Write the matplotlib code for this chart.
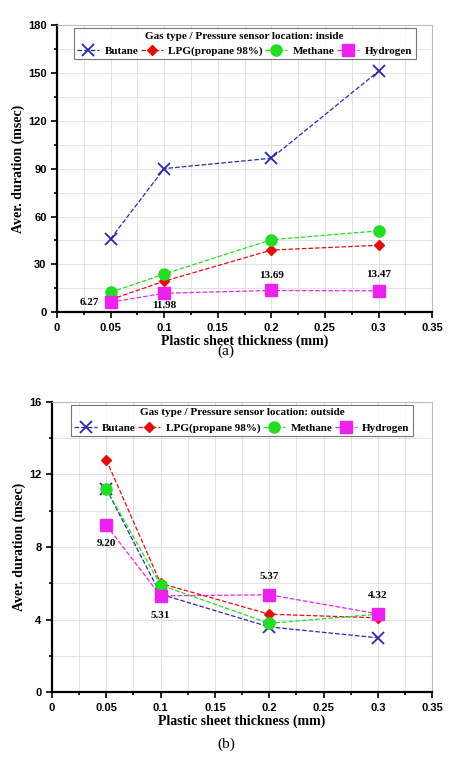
import matplotlib.pyplot as plt
import numpy as np

thickness = [0.05, 0.1, 0.2, 0.3]
labels = ["Butane", "LPG(propane 98%)", "Methane", "Hydrogen"]

inside_butane = [46, 90, 96.5, 151]
inside_lpg = [8, 19.5, 39, 42]
inside_methane = [12.5, 24, 45.5, 51]
inside_hydrogen = [6.27, 11.98, 13.69, 13.47]

outside_butane = [11.2, 5.4, 3.6, 3.0]
outside_lpg = [12.8, 6.0, 4.3, 4.1]
outside_methane = [11.2, 5.9, 3.8, 4.3]
outside_hydrogen = [9.20, 5.31, 5.37, 4.32]

styles = [
    dict(color="#2a2aa8", marker="x", markersize=8, mew=1.3),
    dict(color="#e01010", marker="D", markersize=5),
    dict(color="#22dd22", marker="o", markersize=8),
    dict(color="#ee22ee", marker="s", markersize=8),
]

serif = "Liberation Serif"
sans = "Liberation Sans"

fig = plt.figure(figsize=(4.52, 7.77), dpi=100)
ax1 = fig.add_axes([0.126, 0.598, 0.83, 0.37])
ax2 = fig.add_axes([0.115, 0.109, 0.841, 0.374])


def draw(ax, series, ymax, ystep, title, offsets):
    for vals, lab, st in zip(series, labels, styles):
        ax.plot(thickness, vals, "--", lw=0.9, label=lab, **st)
    hyd = series[3]
    for x, y, (dx, dy) in zip(thickness, hyd, offsets):
        ax.annotate(f"{y:.2f}", (x, y), xytext=(dx, dy), textcoords="offset points",
                    ha="center", va="center", fontsize=8, fontweight="bold", family=serif)
    ax.set_xlim(0, 0.35)
    ax.set_ylim(0, ymax)
    ax.set_xticks(np.arange(0, 0.351, 0.05))
    ax.set_xticklabels(["0", "0.05", "0.1", "0.15", "0.2", "0.25", "0.3", "0.35"])
    ax.set_xticks(np.arange(0.025, 0.35, 0.05), minor=True)
    ax.set_yticks(np.arange(0, ymax + 0.01, ystep))
    ax.set_yticks(np.arange(ystep / 2, ymax, ystep), minor=True)
    ax.grid(True, which="both", color="#dddddd", lw=0.6)
    ax.set_axisbelow(True)
    for lab in ax.get_xticklabels() + ax.get_yticklabels():
        lab.set_family(sans)
        lab.set_fontweight("bold")
        lab.set_fontsize(8)
    ax.tick_params(which="both", direction="out", width=1.2)
    ax.tick_params(which="major", length=4)
    ax.tick_params(which="minor", length=2.5)
    for s in ["left", "bottom"]:
        ax.spines[s].set_linewidth(1.6)
    for s in ["top", "right"]:
        ax.spines[s].set_color("#bbbbbb")
    ax.set_xlabel("Plastic sheet thickness (mm)", family=serif, fontweight="bold", fontsize=10, labelpad=1)
    ax.set_ylabel("Aver. duration (msec)", family=serif, fontweight="bold", fontsize=10, labelpad=2)
    leg = ax.legend(loc="upper center", ncol=4, title=title, frameon=True, fancybox=False,
                    edgecolor="#555555", handlelength=2.0, handletextpad=0.5, columnspacing=0.2,
                    borderpad=0.3, prop=dict(family=serif, weight="bold", size=8),
                    title_fontproperties=dict(family=serif, weight="bold", size=8),
                    bbox_to_anchor=(0.5, 1.0), borderaxespad=0.3)
    leg.get_frame().set_linewidth(0.8)


draw(ax1, [inside_butane, inside_lpg, inside_methane, inside_hydrogen], 180, 30,
     "Gas type / Pressure sensor location: inside", [(-15, 0), (0, -9), (0, 11), (0, 12)])
draw(ax2, [outside_butane, outside_lpg, outside_methane, outside_hydrogen], 16, 4,
     "Gas type / Pressure sensor location: outside", [(0, -13), (0, -14), (0, 13), (0, 13)])

fig.text(0.5, 0.543, "(a)", ha="center", family=serif, fontsize=11)
fig.text(0.5, 0.037, "(b)", ha="center", family=serif, fontsize=11)

fig.savefig("out.png", dpi=100)
